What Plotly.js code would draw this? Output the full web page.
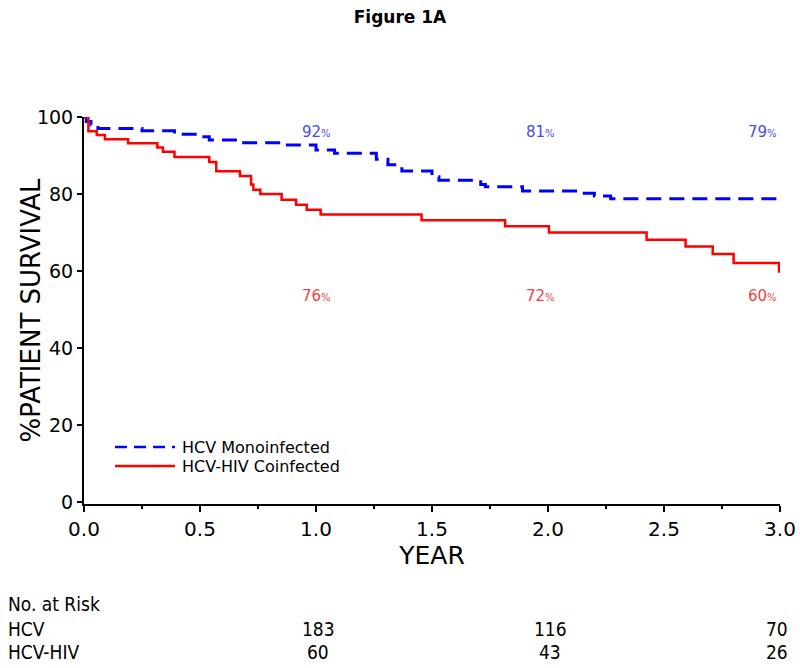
<!DOCTYPE html>
<html>
<head>
<meta charset="utf-8">
<script src="https://cdn.plot.ly/plotly-3.0.1.min.js"></script>
<style>html,body{margin:0;padding:0;background:#fff;}#chart{width:800px;height:668px;}</style>
</head>
<body>
<div id="chart"></div>
<script>
// Kaplan-Meier step data (years, % survival)
const hcvYears = [0, 0.01, 0.03, 0.06, 0.25, 0.39, 0.51, 0.54, 0.66, 0.86, 1.0, 1.08, 1.26, 1.31, 1.37, 1.50, 1.53, 1.71, 1.73, 1.89, 2.14, 2.20, 2.27, 3.0];
const hcvSurv  = [100, 98.8, 98.0, 97.0, 96.4, 95.5, 94.9, 94.0, 93.3, 92.7, 91.4, 90.6, 89.0, 87.6, 86.0, 84.5, 83.6, 82.5, 81.9, 80.8, 80.2, 79.5, 78.8, 78.8];
const hivYears = [0, 0.019, 0.055, 0.09, 0.19, 0.316, 0.34, 0.39, 0.54, 0.57, 0.672, 0.72, 0.73, 0.76, 0.852, 0.914, 0.96, 1.02, 1.455, 1.815, 2.004, 2.425, 2.593, 2.71, 2.80, 2.996, 3.0];
const hivSurv  = [100, 96.3, 95.3, 94.2, 93.2, 92.1, 91.0, 89.6, 88.3, 85.9, 84.7, 82.5, 81.1, 80.0, 78.5, 77.2, 75.9, 74.7, 73.2, 71.6, 70.0, 68.1, 66.4, 64.4, 62.1, 59.9, 59.9];

const seriesNames = ['HCV Monoinfected', 'HCV-HIV Coinfected'];
const pctTimes = [1, 2, 3];
const pctHCV = ['92', '81', '79'];
const pctHIV = ['76', '72', '60'];
const riskTimes = [1, 2, 3];
const riskHCV = [183, 116, 70];
const riskHIV = [60, 43, 26];
const riskRowLabels = ['No. at Risk', 'HCV', 'HCV-HIV'];
const xTicks = [0, 0.5, 1.0, 1.5, 2.0, 2.5, 3.0];
const yTicks = [0, 20, 40, 60, 80, 100];

const BLUE = '#0000ff', RED = '#ff0000';
const FONT = 'DejaVu Sans, Verdana, sans-serif';
const CFONT = 'DejaVu Sans Condensed, Liberation Sans Narrow, DejaVu Sans, sans-serif';

// pixel helpers for paper coordinates (plot area 84..780 x 117..504)
const px = p => (p - 84) / 696;
const py = p => (504 - p) / 387;

const traces = [
  {x: hcvYears, y: hcvSurv, type: 'scatter', mode: 'lines', name: seriesNames[0],
   line: {shape: 'hv', color: BLUE, width: 3, dash: '15px,8px'}},
  {x: hivYears, y: hivSurv, type: 'scatter', mode: 'lines', name: seriesNames[1],
   line: {shape: 'hv', color: RED, width: 2.5}}
];

const annotations = [];
const pctShift = [0, -8, -18];
pctTimes.forEach((t, i) => {
  annotations.push({x: t, y: 96, xref: 'x', yref: 'y', xshift: pctShift[i], showarrow: false,
    text: pctHCV[i] + '<span style="font-size:10px">%</span>', font: {family: FONT, size: 15, color: '#4a4aee'}});
  annotations.push({x: t, y: 53.4, xref: 'x', yref: 'y', xshift: pctShift[i], showarrow: false,
    text: pctHIV[i] + '<span style="font-size:10px">%</span>', font: {family: FONT, size: 15, color: '#ee4444'}});
});
// Risk table
const rowPix = [604, 629, 652];
riskRowLabels.forEach((lab, i) => {
  annotations.push({x: px(6), y: py(rowPix[i]), xref: 'paper', yref: 'paper', showarrow: false,
    xanchor: 'left', yanchor: 'middle', text: lab, font: {family: CFONT, size: 19, color: '#000'}});
});
riskTimes.forEach((t, i) => {
  annotations.push({x: t, y: py(rowPix[1]), xref: 'x', yref: 'paper', showarrow: false, xshift: i === 2 ? -3 : 2,
    yanchor: 'middle', text: String(riskHCV[i]), font: {family: CFONT, size: 19, color: '#000'}});
  annotations.push({x: t, y: py(rowPix[2]), xref: 'x', yref: 'paper', showarrow: false, xshift: i === 2 ? -3 : 2,
    yanchor: 'middle', text: String(riskHIV[i]), font: {family: CFONT, size: 19, color: '#000'}});
});
// Manual legend
const legY = [py(447), py(466)];
const shapes = [
  {type: 'line', xref: 'paper', yref: 'paper', x0: px(115), x1: px(175), y0: legY[0], y1: legY[0],
   line: {color: BLUE, width: 2.5, dash: '12px,7px'}},
  {type: 'line', xref: 'paper', yref: 'paper', x0: px(115), x1: px(175), y0: legY[1], y1: legY[1],
   line: {color: RED, width: 2.5}}
];
seriesNames.forEach((n, i) => {
  annotations.push({x: px(180), y: legY[i], xref: 'paper', yref: 'paper', showarrow: false,
    xanchor: 'left', yanchor: 'middle', text: n, font: {family: FONT, size: 16, color: '#000'}});
});
// Y axis title
annotations.push({x: px(30), y: 0.5, xref: 'paper', yref: 'paper', showarrow: false, textangle: -90,
  xanchor: 'center', yanchor: 'middle', text: '%PATIENT SURVIVAL', font: {family: FONT, size: 26, color: '#000'}});

const layout = {
  width: 800, height: 668,
  margin: {l: 84, r: 20, t: 117, b: 164},
  paper_bgcolor: '#fff', plot_bgcolor: '#fff',
  showlegend: false,
  title: {text: '<b>Figure 1A</b>', x: 0.5, xanchor: 'center', y: 1 - 17/668, yanchor: 'middle', yref: 'container',
          font: {family: FONT, size: 17, color: '#000'}},
  xaxis: {range: [0, 3], tickvals: xTicks, ticktext: xTicks.map(v => v.toFixed(1)),
          showgrid: false, zeroline: false, showline: true, linecolor: '#000', linewidth: 2,
          ticks: 'outside', ticklen: 6, tickwidth: 1.5, tickcolor: '#000',
          minor: {dtick: 0.25, ticks: 'outside', ticklen: 3, tickcolor: '#000', tickwidth: 1.5, showgrid: false},
          tickfont: {family: FONT, size: 20, color: '#000'},
          title: {text: 'YEAR', font: {family: FONT, size: 25, color: '#000'}, standoff: 2}},
  yaxis: {range: [-0.5, 100], tickvals: yTicks, showgrid: false, zeroline: false, showline: true,
          linecolor: '#000', linewidth: 2, ticks: 'outside', ticklen: 5, tickwidth: 1.5, tickcolor: '#000',
          tickfont: {family: FONT, size: 19, color: '#000'}},
  annotations: annotations,
  shapes: shapes
};

Plotly.newPlot('chart', traces, layout, {displayModeBar: false, staticPlot: true});
</script>
</body>
</html>
